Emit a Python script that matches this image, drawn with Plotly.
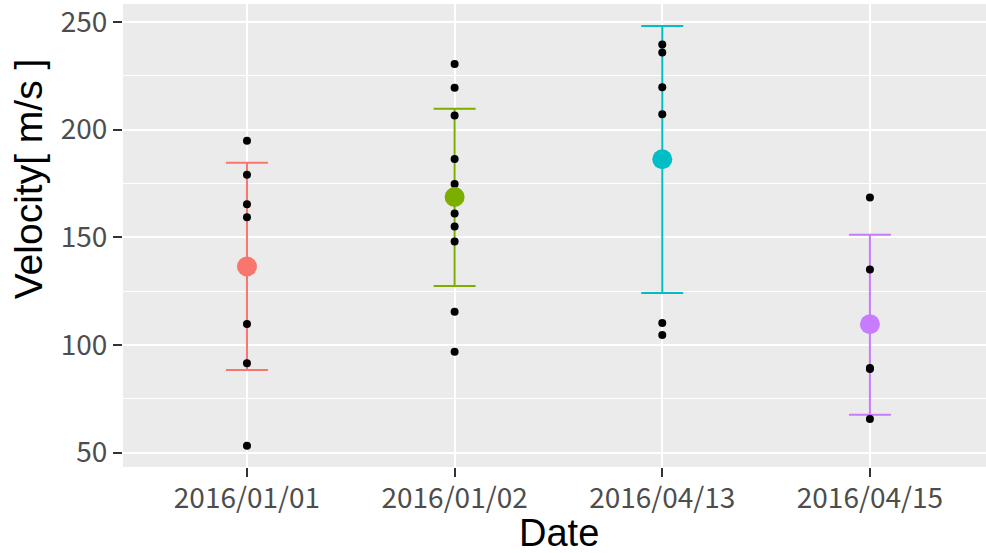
import plotly.graph_objects as go

dates = ["2016/01/01", "2016/01/02", "2016/04/13", "2016/04/15"]
colors = ["#F8766D", "#7CAE00", "#00BFC4", "#C77CFF"]

obs_d1 = [194.8, 179.0, 165.3, 159.3, 109.7, 91.5, 53.2]
obs_d2 = [230.4, 219.4, 206.5, 186.3, 174.7, 161.0, 155.0, 148.0, 115.4, 96.8]
obs_d3 = [239.5, 235.8, 219.6, 207.1, 110.2, 104.6]
obs_d4 = [168.5, 135.0, 89.3, 88.8, 65.6]
observations = [obs_d1, obs_d2, obs_d3, obs_d4]

means = [136.4, 168.7, 186.2, 109.6]
upper = [184.6, 209.7, 248.1, 151.1]
lower = [88.4, 127.3, 124.1, 67.6]

y_ticks = [50, 100, 150, 200, 250]
y_minor = [75, 125, 175, 225]

fig = go.Figure()

# error bars (bottom layer)
for d, m, u, lo, c in zip(dates, means, upper, lower, colors):
    fig.add_trace(go.Scatter(
        x=[d], y=[m], mode="markers",
        marker=dict(size=1, opacity=0),
        error_y=dict(type="data", symmetric=False, array=[u - m], arrayminus=[m - lo],
                     color=c, thickness=2, width=21),
        showlegend=False, hoverinfo="skip"))

# raw observations
for d, obs in zip(dates, observations):
    fig.add_trace(go.Scatter(
        x=[d] * len(obs), y=obs, mode="markers",
        marker=dict(size=8, color="black"),
        showlegend=False))

# means
for d, m, c in zip(dates, means, colors):
    fig.add_trace(go.Scatter(
        x=[d], y=[m], mode="markers",
        marker=dict(size=20, color=c),
        showlegend=False))

W, H = 986, 553
ml, mr, mt, mb = 123, 0, 2, 86
pw, ph = W - ml - mr, H - mt - mb

fig.update_layout(
    width=W, height=H,
    margin=dict(l=ml, r=mr, t=mt, b=mb),
    paper_bgcolor="white",
    plot_bgcolor="#EBEBEB",
    showlegend=False,
    annotations=[
        dict(text="Velocity[ m/s ]", textangle=-90, showarrow=False,
             xref="paper", yref="paper",
             x=(28 - ml) / pw, y=1 - (178 - mt) / ph,
             xanchor="center", yanchor="middle",
             font=dict(family="Liberation Sans", size=39, color="black")),
        dict(text="Date", showarrow=False,
             xref="paper", yref="paper",
             x=(559 - ml) / pw, y=1 - (533 - mt) / ph,
             xanchor="center", yanchor="middle",
             font=dict(family="Liberation Sans", size=38, color="black")),
    ],
)

fig.update_xaxes(
    type="category", categoryorder="array", categoryarray=dates,
    range=[-0.597, 3.559],
    showgrid=True, gridcolor="white", gridwidth=2,
    zeroline=False, showline=False,
    ticks="outside", ticklen=9, tickwidth=2, tickcolor="#333333",
    ticklabeloverflow="allow", ticklabelstandoff=-3,
    tickfont=dict(family="Noto Sans CJK JP", size=28, color="#4D4D4D"),
)

fig.update_yaxes(
    range=[43.3, 258.3],
    tickvals=y_ticks,
    showgrid=True, gridcolor="white", gridwidth=2,
    minor=dict(tickvals=y_minor, showgrid=True, gridcolor="white", gridwidth=1, ticks=""),
    zeroline=False, showline=False,
    ticks="outside", ticklen=9, tickwidth=2, tickcolor="#333333",
    ticklabeloverflow="allow",
    tickfont=dict(family="Noto Sans CJK JP", size=28, color="#4D4D4D"),
)

fig.write_html("out.html")
